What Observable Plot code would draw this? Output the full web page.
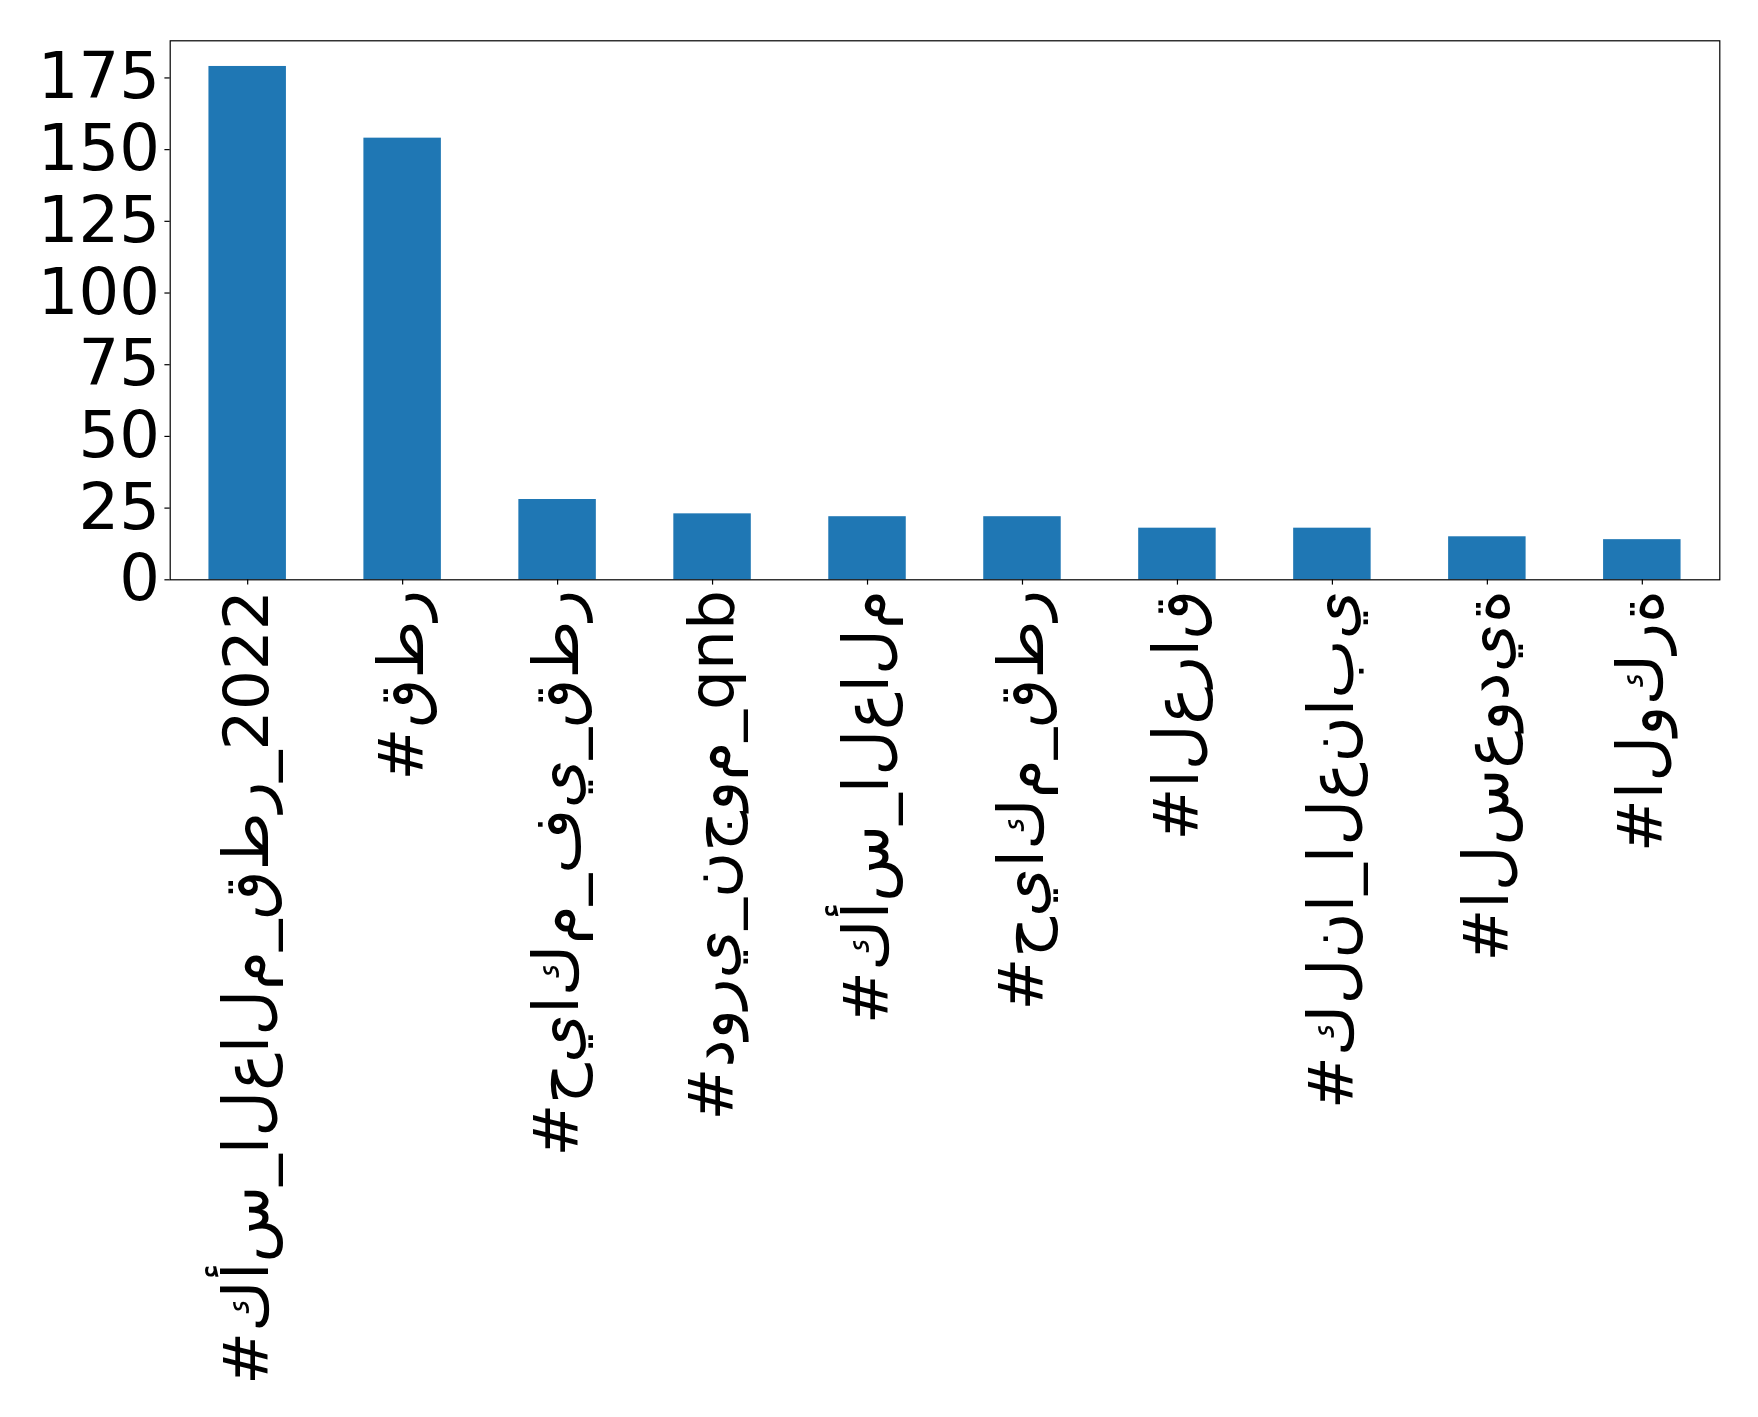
<!DOCTYPE html>
<html><head><meta charset="utf-8">
<script src="https://cdn.jsdelivr.net/npm/d3@7"></script>
<script src="https://cdn.jsdelivr.net/npm/@observablehq/plot@0.6"></script>
<style>
body{margin:0;background:#fff}
#chart svg text{font-family:"DejaVu Sans";}
g[aria-label="x-axis tick label"] text{unicode-bidi:bidi-override;direction:ltr;font-feature-settings:"init" 0,"medi" 0,"fina" 0,"rlig" 0,"liga" 0,"calt" 0;}
</style></head><body><div id="chart"></div>
<script>
const hashtags = [
  "#كأس_العالم_قطر_2022",
  "#قطر",
  "#حياكم_في_قطر",
  "#دوري_نجوم_qnb",
  "#كأس_العالم",
  "#حياكم_قطر",
  "#العراق",
  "#كلنا_العنابي",
  "#السعودية",
  "#الوكرة"
];
const counts = [179, 154, 28, 23, 22, 22, 18, 18, 15, 14];
const yTicks = [0, 25, 50, 75, 100, 125, 150, 175];

const data = hashtags.map((h, i) => ({h, n: counts[i]}));

const chart = Plot.plot({
  width: 1758, height: 1417,
  marginLeft: 169.7, marginRight: 38.7, marginTop: 40.3, marginBottom: 837.7,
  style: {fontFamily: "DejaVu Sans", background: "#fff", overflow: "visible", color: "black"},
  x: {domain: hashtags, paddingInner: 0.5, paddingOuter: 0.25, align: 0.5, round: false},
  y: {domain: [0, d3.max(counts) * 1.05]},
  marks: [
    Plot.barY(data, {x: "h", y: "n", fill: "#1f77b4"}),
    Plot.frame({stroke: "black", strokeWidth: 1.2}),
    Plot.axisY({ticks: yTicks, tickSize: 5.3, tickPadding: 5, fontSize: 64, label: null, strokeWidth: 1.2}),
    Plot.axisX({tickSize: 5.3, tickPadding: 5, tickRotate: -90, fontSize: 63, label: null, strokeWidth: 1.2})
  ]
});
document.getElementById("chart").appendChild(chart);
</script></body></html>
